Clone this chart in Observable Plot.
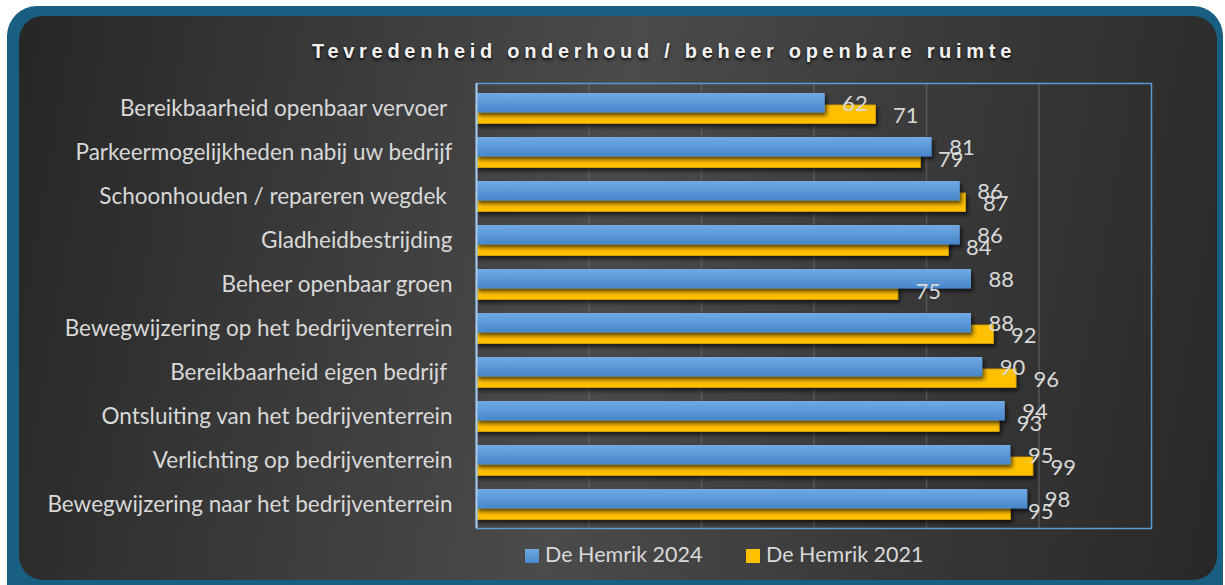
<!DOCTYPE html>
<html>
<head>
<meta charset="utf-8">
<script src="https://cdn.jsdelivr.net/npm/d3@7"></script>
<script src="https://cdn.jsdelivr.net/npm/@observablehq/plot@0.6"></script>
<style>
  html, body { margin: 0; padding: 0; background: #ffffff; }
  #wrap { position: relative; width: 1225px; height: 585px; overflow: hidden; }
  #outer { position: absolute; left: 7px; top: 6px; width: 1216px; height: 610px; border-radius: 30px; background: #185f82; }
  #inner { position: absolute; left: 19px; top: 16px; width: 1198px; height: 564px; border-radius: 24px;
    background: linear-gradient(100deg, #262626 0%, #3a3a3a 25%, #4b4b4b 48%, #3a3a3a 72%, #282828 100%); }
  #chart { position: absolute; left: 0; top: 0; }
  #title { position: absolute; left: 0; width: 1328px; top: 40px; text-align: center; font-family: "Liberation Sans", Arial, sans-serif;
    font-weight: bold; font-size: 20px; letter-spacing: 4.7px; color: #f2f2f2; text-shadow: 0 2px 3px rgba(0,0,0,0.85); }
  #legend { position: absolute; top: 541px; left: 0; font-family: Lato, sans-serif; font-size: 21.5px; color: #d9d9d9; }
  .li { position: absolute; white-space: nowrap; }
  .sw { position: absolute; width: 14px; height: 14px; top: 8px; }
</style>
</head>
<body>
<div id="wrap">
  <div id="outer"></div>
  <div id="inner"></div>
  <div id="chart"></div>
  <div id="title"></div>
  <div id="legend"></div>
</div>
<script>
const title = "Tevredenheid onderhoud / beheer openbare ruimte";
const categories = [
  "Bereikbaarheid openbaar vervoer ",
  "Parkeermogelijkheden nabij uw bedrijf",
  "Schoonhouden / repareren wegdek ",
  "Gladheidbestrijding",
  "Beheer openbaar groen",
  "Bewegwijzering op het bedrijventerrein",
  "Bereikbaarheid eigen bedrijf ",
  "Ontsluiting van het bedrijventerrein",
  "Verlichting op bedrijventerrein",
  "Bewegwijzering naar het bedrijventerrein"
];
const series = ["De Hemrik 2024", "De Hemrik 2021"];
const values2024 = [62, 81, 86, 86, 88, 88, 90, 94, 95, 98];
const values2021 = [71, 79, 87, 84, 75, 92, 96, 93, 99, 95];
const xTicks = [0, 20, 40, 60, 80, 100, 120];

const data = categories.map((c, i) => ({category: c, v2024: values2024[i], v2021: values2021[i]}));

document.getElementById("title").textContent = title;

const chart = Plot.plot({
  width: 1225,
  height: 585,
  marginLeft: 476,
  marginRight: 74,
  marginTop: 83,
  marginBottom: 57,
  style: {fontFamily: "Lato, sans-serif", fontSize: "22px", color: "#d9d9d9", background: "transparent", overflow: "visible"},
  x: {domain: [0, 120], axis: null},
  y: {domain: categories, padding: 0, axis: null},
  marks: [
    Plot.gridX(xTicks.slice(1, -1), {stroke: "#6b6b6b", strokeOpacity: 0.6, strokeWidth: 1.5}),
    Plot.barX(data, {x: "v2021", y: "category", fill: "#ffc000", stroke: "#d9a200", strokeWidth: 0.8, insetTop: 19, insetBottom: 6.5}),
    Plot.barX(data, {x: "v2024", y: "category", fill: "url(#blueGrad)", insetTop: 7, insetBottom: 17.5}),
    Plot.text(data, {x: "v2024", y: "category", text: d => String(d.v2024), textAnchor: "start", dx: 17, dy: -5, fill: "#d9d9d9", fontSize: 22}),
    Plot.text(data, {x: "v2021", y: "category", text: d => String(d.v2021), textAnchor: "start", dx: 17, dy: 7, fill: "#d9d9d9", fontSize: 22}),
    Plot.axisY({label: null, tickSize: 0, tickPadding: 24, fontSize: 22.5, fill: "#d9d9d9", tickFormat: d => d.replace(/ $/, "\u00a0")}),
    Plot.frame({stroke: "#5b9bd5", strokeWidth: 1.5}),
    Plot.ruleX([0], {stroke: "#a8c8ea", strokeWidth: 2})
  ]
});

// gradient + shadow defs
const svg = d3.select(chart);
const defs = svg.insert("defs", ":first-child");
const g = defs.append("linearGradient").attr("id", "blueGrad").attr("x1", 0).attr("y1", 0).attr("x2", 0).attr("y2", 1);
g.append("stop").attr("offset", "0%").attr("stop-color", "#72aae2");
g.append("stop").attr("offset", "100%").attr("stop-color", "#4686cb");
const f = defs.append("filter").attr("id", "barShadow").attr("x", "-5%").attr("y", "-30%").attr("width", "115%").attr("height", "180%");
f.append("feDropShadow").attr("dx", 2).attr("dy", 3).attr("stdDeviation", 2).attr("flood-color", "#000").attr("flood-opacity", 0.65);
svg.selectAll("g[aria-label='bar']").attr("filter", "url(#barShadow)");

document.getElementById("chart").appendChild(chart);

// legend
const legend = document.getElementById("legend");
const legendColors = ["linear-gradient(#72aae2, #4686cb)", "#ffc000"];
const legendX = [525, 746];
series.forEach((s, i) => {
  const sw = document.createElement("div");
  sw.className = "sw";
  sw.style.left = legendX[i] + "px";
  sw.style.background = legendColors[i];
  const t = document.createElement("div");
  t.className = "li";
  t.style.left = (legendX[i] + 20) + "px";
  t.textContent = s;
  legend.appendChild(sw);
  legend.appendChild(t);
});
</script>
</body>
</html>
